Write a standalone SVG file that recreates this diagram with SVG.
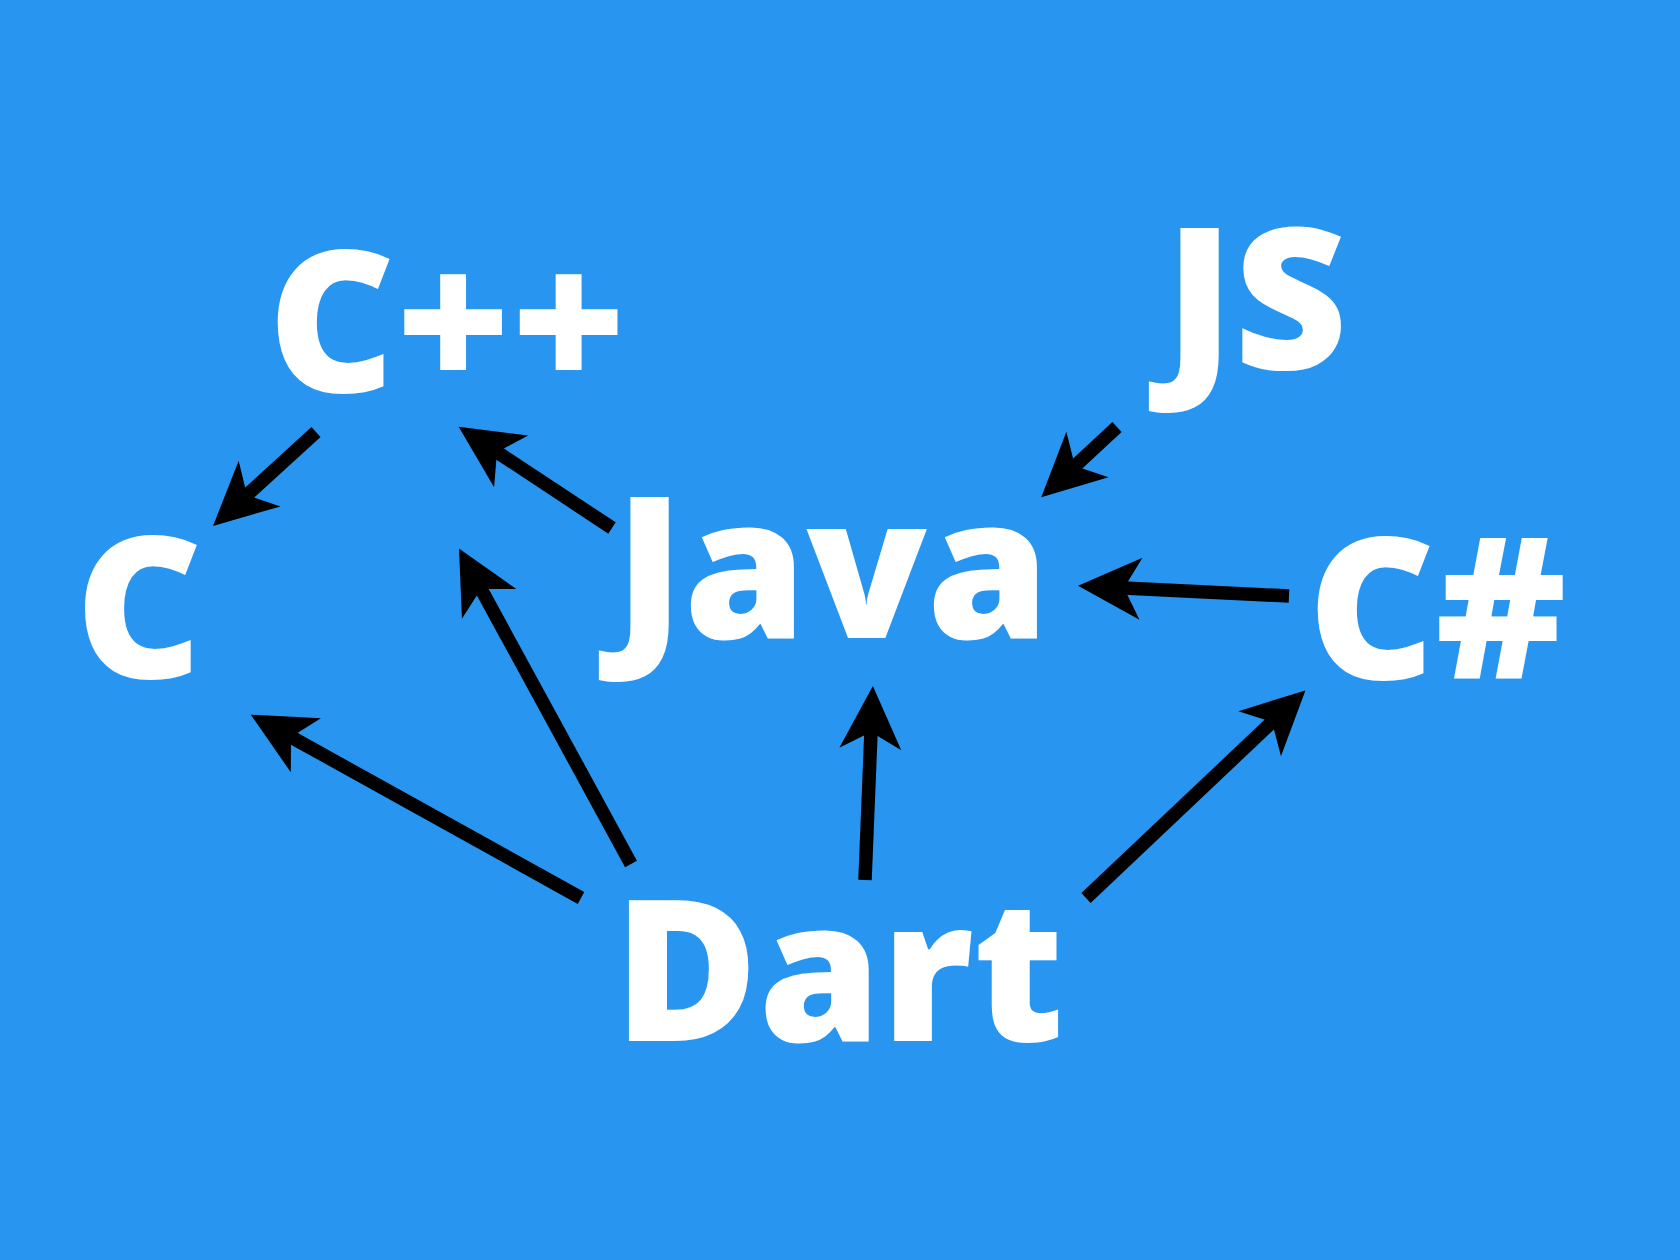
<svg xmlns="http://www.w3.org/2000/svg" width="1680" height="1260" viewBox="0 0 1680 1260">
<style>
.lbl{font-family:"Open Sans","Noto Sans","DejaVu Sans",sans-serif;font-weight:800;font-size:197px;fill:#ffffff;text-anchor:middle}
.edge{stroke:#000000;stroke-width:13.5;fill:none}
</style>
<defs>
<marker id="ah" markerUnits="userSpaceOnUse" orient="auto" refX="0" refY="0" viewBox="-20 -35 70 70" markerWidth="70" markerHeight="70" overflow="visible">
<path d="M46,0 L-17,-31 L0,0 L-17,31 Z" fill="#000000"/>
</marker>
</defs>
<rect x="0" y="0" width="1680" height="1260" fill="#2896F0"/>
<g id="node-cpp"><text class="lbl" x="447" y="392">C++</text></g>
<g id="node-c"><text class="lbl" x="139" y="678">C</text></g>
<g id="node-js"><text class="lbl" x="1256" y="369">JS</text></g>
<g id="node-java"><text class="lbl" x="832" y="638">Java</text></g>
<g id="node-csharp"><text class="lbl" x="1437" y="679">C#</text></g>
<g id="node-dart"><text class="lbl" x="839" y="1041">Dart</text></g>
<g id="connectors">
<line class="edge" x1="316" y1="432" x2="247" y2="495" marker-end="url(#ah)"/>
<line class="edge" x1="612" y1="528" x2="497" y2="452" marker-end="url(#ah)"/>
<line class="edge" x1="1117" y1="427" x2="1075" y2="466" marker-end="url(#ah)"/>
<line class="edge" x1="1289" y1="596" x2="1124" y2="588" marker-end="url(#ah)"/>
<line class="edge" x1="581" y1="898" x2="291" y2="737" marker-end="url(#ah)"/>
<line class="edge" x1="631" y1="864" x2="481" y2="589" marker-end="url(#ah)"/>
<line class="edge" x1="865" y1="880" x2="871" y2="732" marker-end="url(#ah)"/>
<line class="edge" x1="1086" y1="898" x2="1272" y2="722" marker-end="url(#ah)"/>
</g>
</svg>
